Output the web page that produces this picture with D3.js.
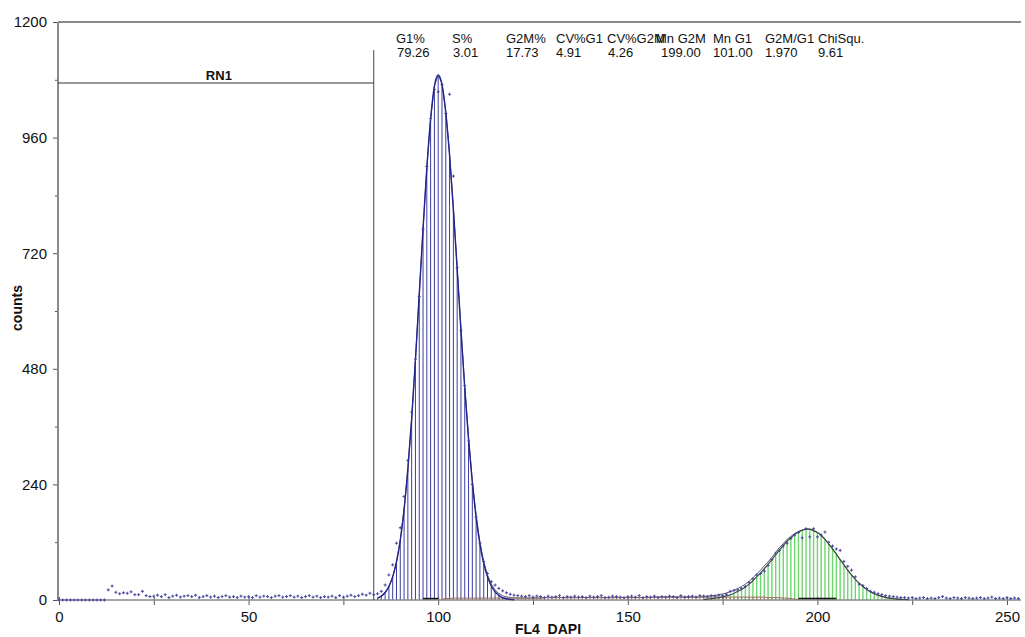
<!DOCTYPE html>
<html>
<head>
<meta charset="utf-8">
<script src="https://cdn.jsdelivr.net/npm/d3@7"></script>
<style>
body { margin: 0; background: #fff; }
svg text { font-family: Arial, "Liberation Sans", sans-serif; fill: #111; }
</style>
</head>
<body>
<div class="vis"></div>
<script>
// measured counts per channel, channel 0 first
var counts = [
    0, 0, 0, 0, 0, 0, 0, 0, 0, 0,
    0, 0, 0, 21, 29, 16, 13, 15, 14, 17,
    11, 11, 18, 9, 7, 8, 10, 7, 11, 5,
    8, 10, 6, 8, 9, 7, 10, 5, 7, 9,
    6, 8, 5, 7, 9, 6, 7, 5, 8, 6,
    7, 5, 9, 6, 8, 7, 5, 8, 9, 6,
    7, 9, 6, 8, 5, 7, 9, 6, 8, 5,
    7, 6, 8, 5, 9, 6, 8, 10, 7, 9,
    12, 10, 14, 11, 13, 18, 31, 52, 73, 118,
    150, 215, 290, 390, 500, 630, 770, 900, 1000, 1060,
    1055, 1070, 1010, 1050, 880, 690, 560, 445, 330, 240,
    172, 118, 80, 55, 38, 31, 24, 19, 15, 12,
    10, 9, 8, 7, 9, 6, 8, 7, 5, 8,
    6, 7, 9, 5, 7, 6, 8, 6, 7, 5,
    8, 6, 7, 9, 5, 6, 8, 7, 6, 5,
    7, 8, 6, 9, 5, 7, 6, 8, 5, 7,
    6, 8, 7, 5, 9, 6, 7, 8, 6, 9,
    8, 7, 9, 8, 10, 9, 12, 18, 20, 21,
    24, 28, 36, 44, 52, 55, 60, 72, 84, 97,
    103, 112, 118, 128, 135, 140, 129, 148, 131, 148,
    131, 135, 141, 120, 112, 106, 103, 80, 70, 62,
    48, 33, 30, 24, 18, 16, 13, 11, 9, 8,
    7, 6, 5, 5, 4, 5, 3, 4, 5, 3,
    4, 3, 5, 7, 4, 3, 5, 4, 3, 5,
    4, 3, 4, 5, 3, 4, 6, 3, 4, 3,
    5, 3, 4, 3
];

// G1 model component, from channel 84
var g1Start = 84;
var g1Fit = [
    4, 8, 15.5, 28, 48, 79, 124, 188, 272, 376,
    499, 634, 770, 897, 999, 1067, 1090, 1070, 1012, 923,
    811, 687, 560, 440, 334, 244, 172, 116, 76, 48,
    29, 17, 9.6, 5, 2.5, 1.2, 0.5
];

// G2M model component, from channel 170
var g2mStart = 170;
var g2mFit = [
    1.4, 2, 2.7, 3.6, 4.9, 6.5, 8.5, 11, 14, 18,
    22, 27, 33, 40, 48, 56, 65, 74, 84, 94,
    104, 113, 122, 129, 136, 141, 145, 147, 147, 144,
    140, 134, 126, 116, 106, 95, 84, 73, 62, 52,
    43, 35, 28, 22, 17, 13, 10, 7.5, 5.5, 4,
    3, 2, 1.4, 1, 0.7
];

// S phase component, from channel 101
var sStart = 101;
var sPhase = [
    2, 3, 3, 4, 4, 4, 4, 4, 4, 4,
    4, 4, 4, 4, 4, 4, 4, 4, 4, 4,
    4, 4, 4, 4, 4, 4, 4, 5, 5, 5,
    5, 5, 5, 5, 5, 5, 5, 5, 5, 5,
    5, 5, 5, 5, 5, 5, 5, 5, 5, 5,
    5, 5, 5, 5, 5, 5, 6, 6, 6, 6,
    6, 6, 6, 6, 6, 6, 6, 6, 6, 6,
    6, 6, 6, 6, 6, 6, 6, 6, 6, 6,
    6, 6, 6, 6, 6, 6, 5, 5, 5, 5,
    4, 4, 3, 2, 1
];

var meanBars = [[96, 100], [195, 205]];
var rn1 = [0, 83];

var statNames = ["G1%", "S%", "G2M%", "CV%G1", "CV%G2M", "Mn G2M", "Mn G1", "G2M/G1", "ChiSqu."];
var statValues = ["79.26", "3.01", "17.73", "4.91", "4.26", "199.00", "101.00", "1.970", "9.61"];

var xTicks = [0, 25, 50, 75, 100, 125, 150, 175, 200, 225, 250];
var yTicks = [0, 120, 240, 360, 480, 600, 720, 840, 960, 1080, 1200];

var width = 1025, height = 637;

var svg = d3.select(".vis")
    .append("svg")
    .attr("width", width)
    .attr("height", height);

var x = d3.scaleLinear().domain([0, 250]).range([59, 1007]);
var y = d3.scaleLinear().domain([0, 1200]).range([600, 22]);
var xEnd = x.invert(1021);

function bars(values, start, color, minVal, w) {
    svg.append("g")
        .selectAll("line")
        .data(values.map((v, i) => ({ ch: start + i, v: v })).filter(d => d.v >= minVal))
        .enter()
        .append("line")
        .attr("x1", d => x(d.ch))
        .attr("x2", d => x(d.ch))
        .attr("y1", y(0))
        .attr("y2", d => y(d.v))
        .style("stroke", color)
        .style("stroke-width", w);
}

bars(g2mFit, g2mStart, "#6fd66f", 2, 1.4);
bars(g1Fit, g1Start, "#3d3d9f", 4, 1);
bars(sPhase, sStart, "#a47a6c", 0, 1);

// axes
var yAxis = d3.axisLeft(y)
    .tickValues(yTicks)
    .tickSize(5)
    .tickSizeOuter(0)
    .tickPadding(6)
    .tickFormat(d => d % 240 === 0 ? d : "");

var gy = svg.append("g")
    .attr("transform", "translate(58,0)")
    .call(yAxis);
gy.select(".domain").remove();
gy.selectAll(".tick line").style("stroke", "#555")
    .attr("x2", d => d % 240 === 0 ? -5 : -3);
gy.selectAll("text").style("font-size", "15px");

var xAxis = d3.axisBottom(x)
    .tickValues(xTicks)
    .tickSize(5)
    .tickSizeOuter(0)
    .tickPadding(6)
    .tickFormat(d => d % 50 === 0 ? d : "");

var gx = svg.append("g")
    .attr("transform", "translate(0,600)")
    .call(xAxis);
gx.select(".domain").remove();
gx.selectAll(".tick line").style("stroke", "#555").attr("y1", -3);
gx.selectAll("text").style("font-size", "15px");

// frame lines
svg.append("line")
    .attr("x1", 58).attr("x2", 58)
    .attr("y1", y(1200)).attr("y2", y(0) + 1)
    .style("stroke", "#8a8a8a").style("stroke-width", 2);
svg.append("line")
    .attr("x1", 58).attr("x2", x(xEnd))
    .attr("y1", y(1200)).attr("y2", y(1200))
    .style("stroke", "#8a8a8a").style("stroke-width", 2);
svg.append("line")
    .attr("x1", 58).attr("x2", x(xEnd))
    .attr("y1", y(0)).attr("y2", y(0))
    .style("stroke", "#8a8a8a").style("stroke-width", 1.5);

// total model = G1 + S + G2M
var total = [];
for (var ch = g1Start; ch < g2mStart + g2mFit.length; ch++) {
    var g1 = g1Fit[ch - g1Start] || 0;
    var s = sPhase[ch - sStart] || 0;
    var g2 = g2mFit[ch - g2mStart] || 0;
    total.push({ ch: ch, v: g1 + s + g2 });
}

var line = d3.line().x(d => x(d.ch)).y(d => y(d.v));

svg.append("path")
    .datum(total)
    .attr("d", line)
    .style("fill", "none")
    .style("stroke", "#55586a")
    .style("stroke-width", 1);

svg.append("path")
    .datum(sPhase.map((v, i) => ({ ch: sStart + i, v: v })))
    .attr("d", line)
    .style("fill", "none")
    .style("stroke", "#9c6e60")
    .style("stroke-width", 1);

svg.append("path")
    .datum(g1Fit.map((v, i) => ({ ch: g1Start + i, v: v })))
    .attr("d", line.curve(d3.curveMonotoneX))
    .style("fill", "none")
    .style("stroke", "#23238f")
    .style("stroke-width", 1.4);

svg.append("path")
    .datum(g2mFit.map((v, i) => ({ ch: g2mStart + i, v: v })))
    .attr("d", line.curve(d3.curveMonotoneX))
    .style("fill", "none")
    .style("stroke", "#3c4c3c")
    .style("stroke-width", 1.2);

svg.append("g")
    .selectAll("line")
    .data(meanBars)
    .enter()
    .append("line")
    .attr("x1", d => x(d[0]))
    .attr("x2", d => x(d[1]))
    .attr("y1", y(3))
    .attr("y2", y(3))
    .style("stroke", "#111")
    .style("stroke-width", 1.5);

// data points as small crosses
svg.append("g")
    .selectAll("path")
    .data(counts)
    .enter()
    .append("path")
    .attr("d", (d, i) => "M" + (x(i) - 1.5) + "," + y(d) + "h3M" + x(i) + "," + (y(d) - 1.5) + "v3")
    .style("stroke", "#45459c")
    .style("stroke-width", 1)
    .style("fill", "none");

// RN1 region marker
svg.append("line")
    .attr("x1", x(rn1[1])).attr("x2", x(rn1[1]))
    .attr("y1", 50).attr("y2", y(0))
    .style("stroke", "#444").style("stroke-width", 1);
svg.append("line")
    .attr("x1", 58).attr("x2", x(rn1[1]))
    .attr("y1", 83).attr("y2", 83)
    .style("stroke", "#333").style("stroke-width", 1);
svg.append("text")
    .attr("x", (58 + x(rn1[1])) / 2 + 3)
    .attr("y", 80)
    .attr("text-anchor", "middle")
    .style("font-size", "13px")
    .style("font-weight", "bold")
    .text("RN1");

// stats block
var headX = [396, 452, 506, 556, 607, 656, 713, 765, 818];
var valX = [397, 453, 506, 556, 608, 661, 713, 765, 818];

svg.append("g")
    .selectAll("text")
    .data(statNames)
    .enter()
    .append("text")
    .attr("x", (d, i) => headX[i])
    .attr("y", 43)
    .style("font-size", "13px")
    .text(d => d);

svg.append("g")
    .selectAll("text")
    .data(statValues)
    .enter()
    .append("text")
    .attr("x", (d, i) => valX[i])
    .attr("y", 57)
    .style("font-size", "13px")
    .text(d => d);

// axis titles
svg.append("text")
    .attr("transform", "translate(22,308) rotate(-90)")
    .attr("text-anchor", "middle")
    .style("font-size", "14px")
    .style("font-weight", "bold")
    .text("counts");

svg.append("text")
    .attr("x", 548)
    .attr("y", 634)
    .attr("text-anchor", "middle")
    .attr("xml:space", "preserve")
    .style("white-space", "pre")
    .style("font-size", "14px")
    .style("font-weight", "bold")
    .text("FL4  DAPI");
</script>
</body>
</html>
